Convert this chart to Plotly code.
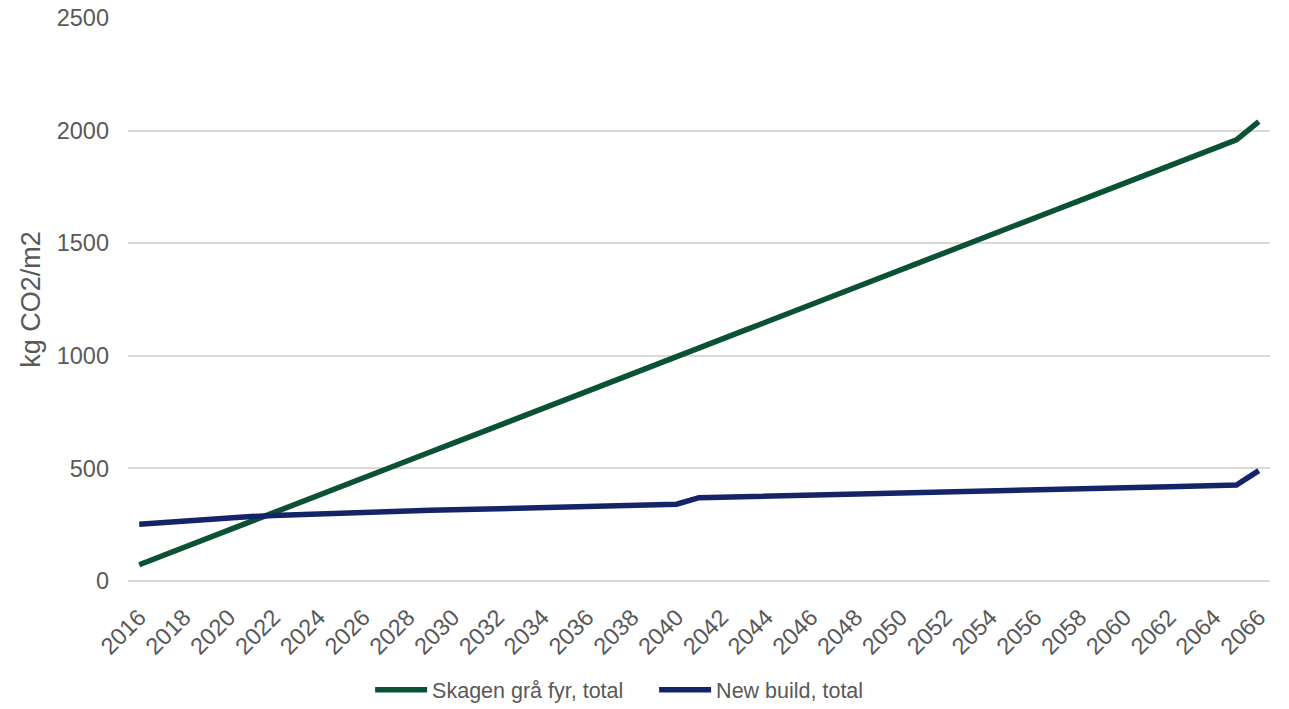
import plotly.graph_objects as go

# Years 2016–2066
years = list(range(2016, 2067))

# Cumulative emissions, kg CO2/m2
skagen_total = [
    72, 111, 149, 188, 226, 265, 303, 342, 380, 419,
    457, 496, 534, 573, 611, 650, 688, 727, 765, 804,
    842, 881, 919, 958, 996, 1035, 1073, 1112, 1150, 1189,
    1227, 1266, 1304, 1343, 1381, 1420, 1458, 1497, 1535, 1574,
    1612, 1651, 1689, 1728, 1766, 1805, 1843, 1882, 1920, 1959,
    2040,
]
new_build_total = [
    252, 260, 267, 274, 280, 286, 291, 295, 299, 302,
    305, 308, 311, 314, 316, 319, 321, 324, 326, 329,
    331, 334, 336, 339, 341, 370, 372, 374, 376, 379,
    381, 383, 385, 387, 389, 392, 394, 396, 399, 401,
    404, 406, 409, 411, 414, 416, 419, 421, 424, 426,
    490,
]

series_names = ["Skagen grå fyr, total", "New build, total"]
series_colors = ["#0B5235", "#152469"]

tick_years = years[::2]
y_ticks = [0, 500, 1000, 1500, 2000, 2500]

FONT = "Liberation Sans, Arial, sans-serif"
TEXT = "#595959"
GRID = "#D9D9D9"

fig = go.Figure()
for name, vals, col in zip(series_names, [skagen_total, new_build_total], series_colors):
    fig.add_trace(go.Scatter(
        x=years, y=vals, name=name, mode="lines",
        line=dict(color=col, width=5.5),
    ))

fig.update_layout(
    width=1289, height=709,
    margin=dict(l=128, r=19, t=18, b=128, autoexpand=False),
    paper_bgcolor="white", plot_bgcolor="white",
    font=dict(family=FONT, size=21, color=TEXT),
    showlegend=True,
    legend=dict(
        orientation="h", xref="paper", x=0.212, xanchor="left",
        yref="container", y=0.027, yanchor="middle",
        font=dict(family=FONT, size=21.5, color=TEXT),
        itemwidth=52, entrywidth=217, tracegroupgap=0,
    ),
    xaxis=dict(
        range=[2015.5, 2066.5], automargin=False,
        tickmode="array", tickvals=tick_years,
        ticktext=[str(y) for y in tick_years],
        tickangle=-45, showgrid=False, zeroline=False,
        showline=False, ticks="",
        ticklabelstandoff=17,
        tickfont=dict(family=FONT, size=23.5, color=TEXT),
    ),
    yaxis=dict(
        range=[0, 2500], automargin=False,
        tickmode="array", tickvals=y_ticks,
        showgrid=True, gridcolor=GRID, gridwidth=1.5,
        zeroline=True, zerolinecolor=GRID, zerolinewidth=1.5,
        showline=False, ticks="",
        ticklabelstandoff=18,
        tickfont=dict(family=FONT, size=23.5, color=TEXT),
        title=dict(text="kg CO2/m2", font=dict(family=FONT, size=27, color=TEXT), standoff=8),
    ),
)

fig.write_html("out.html")
